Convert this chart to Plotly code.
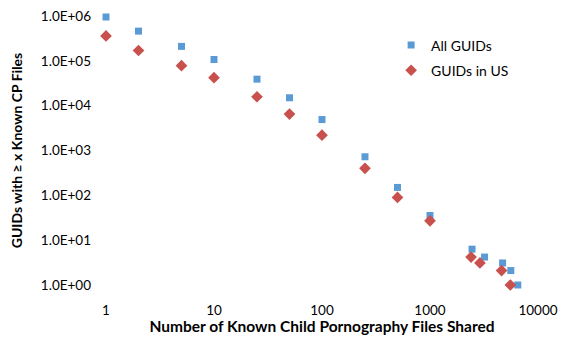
import plotly.graph_objects as go

all_x = [1, 2, 5, 10, 25, 50, 100, 250, 500, 1000, 2450, 3200, 4700, 5600, 6500]
all_y = [9.5e5, 4.6e5, 2.1e5, 1.07e5, 3.9e4, 1.5e4, 4.9e3, 725, 150, 35.5, 6.3, 4.2, 3.1, 2.1, 1.0]
us_x = [1, 2, 5, 10, 25, 50, 100, 250, 500, 1000, 2400, 2900, 4600, 5550]
us_y = [3.6e5, 1.7e5, 7.8e4, 4.2e4, 1.58e4, 6.5e3, 2.2e3, 400, 90, 27, 4.2, 3.1, 2.1, 1.0]

y_tickvals = [1, 10, 100, 1000, 1e4, 1e5, 1e6]
y_ticktext = ["1.0E+00", "1.0E+01", "1.0E+02", "1.0E+03", "1.0E+04", "1.0E+05", "1.0E+06"]
x_tickvals = [1, 10, 100, 1000, 10000]
x_ticktext = ["1", "10", "100", "1000", "10000"]

font = "Lato, 'Open Sans', sans-serif"

fig = go.Figure()
fig.add_trace(go.Scatter(x=all_x, y=all_y, mode="markers", name="All GUIDs", cliponaxis=False,
                         legendgroup="a",
                         marker=dict(symbol="square", size=7, color="#5B9BD5")))
fig.add_trace(go.Scatter(x=us_x, y=us_y, mode="markers", name="GUIDs in US", cliponaxis=False,
                         legendgroup="b",
                         marker=dict(symbol="diamond", size=9, color="#C8504D")))

fig.update_layout(
    width=561, height=337,
    margin=dict(l=106, r=23, t=16, b=52),
    paper_bgcolor="white", plot_bgcolor="white",
    font=dict(family=font, size=13.5, color="#000000"),
    showlegend=True,
    legend=dict(x=0.66, y=0.95, xanchor="left", yanchor="top",
                font=dict(size=14, color="#000000"), bgcolor="rgba(0,0,0,0)",
                itemsizing="trace", tracegroupgap=4),
    xaxis=dict(type="log", range=[0, 4], tickvals=x_tickvals, ticktext=x_ticktext,
               showgrid=False, showline=False, zeroline=False, ticks="",
               automargin=False, ticklabelstandoff=15,
               title=dict(text="<b>Number of Known Child Pornography Files Shared</b>",
                          font=dict(size=15.5), standoff=0)),
    yaxis=dict(type="log", range=[0, 6], tickvals=y_tickvals, ticktext=y_ticktext,
               showgrid=False, showline=False, zeroline=False, ticks="",
               automargin=False, ticklabelstandoff=14,
               title=dict(text="<b>GUIDs with ≥ x Known CP Files</b>",
                          font=dict(size=14), standoff=14)),
)

fig.write_html("out.html")
